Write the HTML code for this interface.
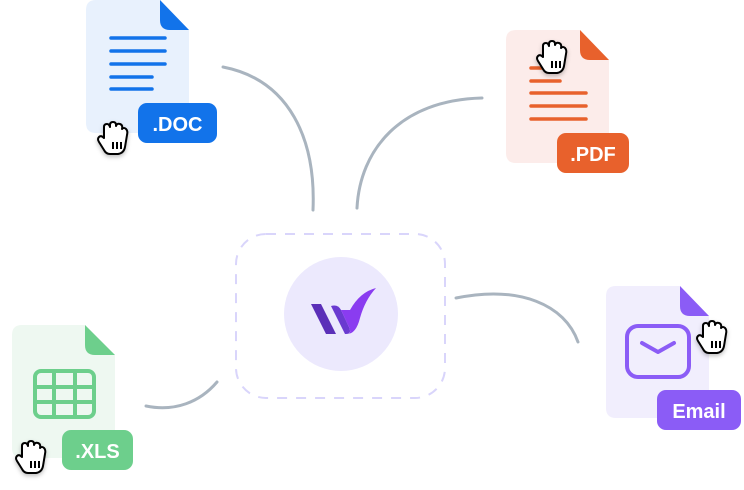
<!DOCTYPE html>
<html><head><meta charset="utf-8"><style>
html,body{margin:0;padding:0;background:#fff;}
svg{display:block;}
text{font-family:"Liberation Sans",sans-serif;font-weight:bold;fill:#fff;}
</style></head><body>
<svg width="744" height="490" viewBox="0 0 744 490" xmlns="http://www.w3.org/2000/svg">
<defs>
<g id="hand">
<path d="M8 14 L8 6 Q8 3 11 3 Q13 3 14 6 L14 4 Q14 1 17 1 Q20 1 20 4 L20 5 Q21 2 24 3 Q27 4 26 8 Q28 6 30 8 Q32 10 31 14 L29 26 Q28 32 22 33 L14 33 Q10 33 8 29 L3 21 Q1 18 3 16 Q5 14 8 17 Z" fill="#fff" stroke="#000" stroke-width="2" stroke-linejoin="round"/>
<path d="M17 21 V28 M21 21 V28 M25 21 V28" stroke="#000" stroke-width="2"/>
</g>
<filter id="sh" x="-50%" y="-50%" width="200%" height="200%"><feDropShadow dx="0" dy="2" stdDeviation="2" flood-opacity="0.25"/></filter>
</defs>
<g fill="none" stroke="#a9b4bf" stroke-width="3" stroke-linecap="round">
<path d="M223 67 C290 80 316 140 313 210"/>
<path d="M357 208 C360 150 400 100 482 98"/>
<path d="M456 298 C520 285 565 305 578 342"/>
<path d="M146 406 C175 412 200 402 217 382"/>
</g>
<rect x="236" y="234" width="209" height="164" rx="30" fill="none" stroke="#d9d5fb" stroke-width="2" stroke-dasharray="10 9"/>
<circle cx="341" cy="314" r="57" fill="#ece9fd"/>
<path d="M311 304 L321 304 L336 334 L326 334 Z" fill="#5b2fb8"/>
<path d="M331 306 Q338 304 341 310 L349 327 Q352 334 346 334 L345 334 Z" fill="#6a3ad0"/>
<path d="M341 310 L349 327 Q352 334 347 334 Q356 334 360 318 Q365 300 376 288 Q360 292 350 310 Z" fill="#8a3cf0"/>
<path d="M96 0 H160 L189 30 V123 Q189 133 179 133 H96 Q86 133 86 123 V10 Q86 0 96 0 Z" fill="#e8f1fd"/>
<path d="M160 0 L189 30 H170 Q160 30 160 20 Z" fill="#1273ea"/>
<g stroke="#1273ea" stroke-width="3.5" stroke-linecap="round"><path d="M111 38 H165 M111 51 H165 M111 64 H165 M111 77 H152 M111 89 H152"/></g>
<rect x="138" y="103" width="79" height="40" rx="9" fill="#1273ea"/>
<text x="177.5" y="131" font-size="20" text-anchor="middle">.DOC</text>
<use href="#hand" x="96" y="121" filter="url(#sh)"/>
<path d="M516 30 H580 L609 60 V153 Q609 163 599 163 H516 Q506 163 506 153 V40 Q506 30 516 30 Z" fill="#fcecea"/>
<path d="M580 30 L609 60 H590 Q580 60 580 50 Z" fill="#e8612c"/>
<g stroke="#e8612c" stroke-width="3.5" stroke-linecap="round"><path d="M531 68 H560 M531 81 H560 M531 93 H586 M531 106 H586 M531 119 H586"/></g>
<rect x="557" y="133" width="72" height="40" rx="9" fill="#e8612c"/>
<text x="593" y="161" font-size="20" text-anchor="middle">.PDF</text>
<use href="#hand" x="535" y="40" filter="url(#sh)"/>
<path d="M616 286 H680 L709 316 V408 Q709 418 699 418 H616 Q606 418 606 408 V296 Q606 286 616 286 Z" fill="#f1eefd"/>
<path d="M680 286 L709 316 H690 Q680 316 680 306 Z" fill="#8b5cf6"/>
<rect x="627" y="326" width="62" height="51" rx="11" fill="none" stroke="#8b5cf6" stroke-width="4"/>
<path d="M642 343 L658 352 L674 343" fill="none" stroke="#8b5cf6" stroke-width="4" stroke-linecap="round" stroke-linejoin="round"/>
<rect x="657" y="390" width="84" height="40" rx="9" fill="#8b5cf6"/>
<text x="699" y="418" font-size="20" text-anchor="middle">Email</text>
<use href="#hand" x="695" y="320" filter="url(#sh)"/>
<path d="M22 325 H85 L115 355 V448 Q115 458 105 458 H22 Q12 458 12 448 V335 Q12 325 22 325 Z" fill="#eef8f1"/>
<path d="M85 325 L115 355 H95 Q85 355 85 345 Z" fill="#6dcf8c"/>
<g fill="none" stroke="#6dcf8c" stroke-width="4"><rect x="35" y="371" width="59" height="46" rx="6"/><path d="M35 387 H94 M35 402 H94 M54 371 V417 M75 371 V417"/></g>
<rect x="62" y="430" width="71" height="40" rx="9" fill="#6dcf8c"/>
<text x="97.5" y="458" font-size="20" text-anchor="middle">.XLS</text>
<use href="#hand" x="14" y="440" filter="url(#sh)"/>
</svg>
</body></html>
